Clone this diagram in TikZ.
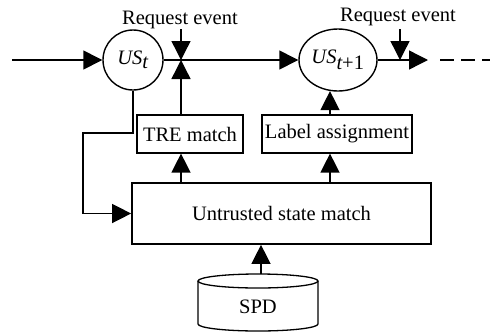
\documentclass[tikz,border=0pt]{standalone}
\usepackage{fontspec}
\setmainfont{Liberation Serif}
\usetikzlibrary{arrows.meta,calc,shapes.geometric}
\begin{document}
\begin{tikzpicture}[x=1pt,y=-1pt,
  every node/.style={font=\fontsize{20.5pt}{24pt}\selectfont, inner sep=0pt},
  conn/.style={line width=1.4pt, -{Triangle[length=19pt,width=19pt]}},
  plain/.style={line width=1.4pt},
  boxA/.style={draw, line width=1.2pt, minimum height=38pt},
  state/.style={draw, line width=1.4pt}
]
\useasboundingbox (0,0) rectangle (490,333);

% states
\node[state, circle, minimum size=60pt] (ust) at (133,60) {\textit{US}$_{\textit{t}}$};
\node[state, ellipse, minimum width=78pt, minimum height=62pt] (usn) at (338,60) {\textit{US}$_{\textit{t}\textrm{+1}}$};

% boxes
\node[boxA, minimum width=106pt] (tre) at (190,134) {TRE match};
\node[boxA, minimum width=150pt] (lab) at (337,134) {Label assignment};
\node[draw, line width=1.7pt, minimum width=299pt, minimum height=61pt] (usm) at (281.5,213.5) {Untrusted state match};

% SPD cylinder
\node (spd) at (258,307) {SPD};
\draw[line width=1.3pt] (258,281) ellipse [x radius=60, y radius=7];
\draw[line width=1.3pt] (198,281) -- (198,324) arc[start angle=180, end angle=0, x radius=60, y radius=7] -- (318,281);
\coordinate (spdtop) at (261,274);

% coordinates
\coordinate (start) at (12,60);
\coordinate (j1) at (181,60);
\coordinate (j2) at (330,60);
\coordinate (r1) at (181,29);
\coordinate (r2) at (400,29);
\coordinate (j3) at (400,60);
\coordinate (endarr) at (428,60);
\coordinate (d1) at (440,60);
\coordinate (d2) at (490,60);
\coordinate (k1) at (83,133);

% labels
\node[anchor=base] (req1) at (180,24) {Request event};
\node[anchor=base] (req2) at (398,21) {Request event};

% connectors
\draw[conn] (start) -- (ust.west);
\draw[conn] (ust.east) -- (usn.west);
\draw[conn] (r1) -- (j1);
\draw[conn] (j1 |- tre.north) -- (j1);
\draw[conn] (ust.south) |- (k1) |- (usm.west);
\draw[conn] (j1 |- usm.north) -- (j1 |- tre.south);
\draw[conn] (j2 |- usm.north) -- (j2 |- lab.south);
\draw[conn] (j2 |- lab.north) -- ($(j2 |- usn.south)+(0,-0.6)$);
\draw[conn] (usn.east) -- (endarr);
\draw[conn] (r2) -- (j3);
\draw[plain, dash pattern=on 14pt off 7pt] (d1) -- (d2);
\draw[conn] (spdtop) -- (spdtop |- usm.south);
\end{tikzpicture}
\end{document}
